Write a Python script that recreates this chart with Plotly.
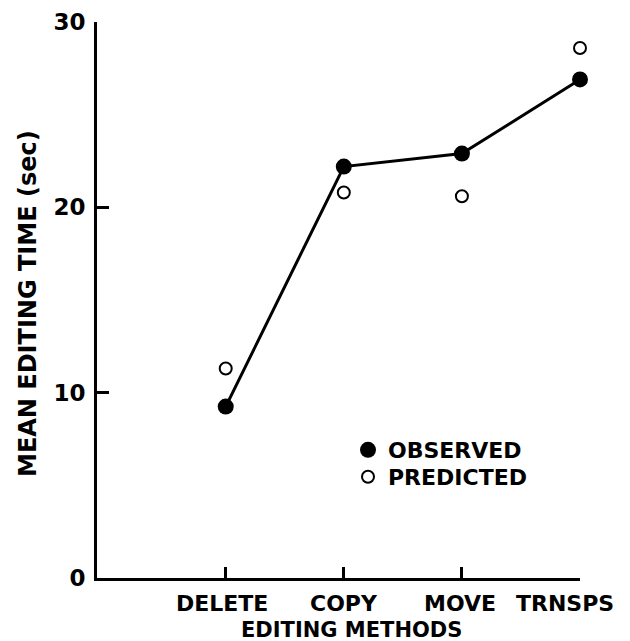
import plotly.graph_objects as go

categories = ["DELETE", "COPY", "MOVE", "TRNSPS"]
observed = [9.25, 22.2, 22.9, 26.9]
predicted = [11.3, 20.8, 20.6, 28.6]
y_ticks = [0, 10, 20, 30]

xpos = list(range(len(categories)))
FONT = "DejaVu Sans"
W, H = 622, 633
L, R, T, B = 89, 50, 14, 63
PW, PH = W - L - R, H - T - B

fig = go.Figure()
fig.add_trace(go.Scatter(
    x=xpos, y=observed, mode="lines", showlegend=False,
    line=dict(color="black", width=3), cliponaxis=False,
))
fig.add_trace(go.Scatter(
    x=xpos, y=observed, mode="markers", name="OBSERVED", legend="legend",
    marker=dict(color="black", size=16, symbol="circle"),
    cliponaxis=False,
))
fig.add_trace(go.Scatter(
    x=xpos, y=predicted, mode="markers", name="PREDICTED", legend="legend2",
    marker=dict(color="white", size=12, symbol="circle",
                line=dict(color="black", width=2)),
    cliponaxis=False,
))

legend_common = dict(xanchor="left", yanchor="top", bgcolor="rgba(0,0,0,0)",
                     itemwidth=30, font=dict(size=22, family=FONT, weight="bold"))

fig.update_layout(
    width=W, height=H,
    margin=dict(l=L, r=R, t=T, b=B, autoexpand=False),
    paper_bgcolor="white", plot_bgcolor="white",
    font=dict(family=FONT, color="black"),
    showlegend=True,
    legend=dict(x=(340 - L) / PW, y=1 - (421 - T) / PH, **legend_common),
    legend2=dict(x=(340 - L) / PW, y=1 - (448 - T) / PH, **legend_common),
    xaxis=dict(range=[-1.09, 3.0], tickvals=xpos, showticklabels=False,
               ticks="inside", ticklen=11, tickwidth=3, tickcolor="black",
               showline=True, linecolor="black", linewidth=3,
               showgrid=False, zeroline=False, automargin=False),
    yaxis=dict(range=[0, 30], tickvals=y_ticks, ticktext=[str(v) for v in y_ticks],
               ticks="inside", ticklen=12, tickwidth=3, tickcolor="black",
               showline=True, linecolor="black", linewidth=3,
               showgrid=False, zeroline=False, automargin=False,
               tickfont=dict(size=23, family=FONT, weight="bold"), ticklabelstandoff=4),
)

shifts = [-4, 0, -2, -15]
for c, xp, s in zip(categories, xpos, shifts):
    fig.add_annotation(x=xp, y=0, xref="x", yref="paper", text=c,
                       showarrow=False, yanchor="middle", yshift=-25, xshift=s,
                       font=dict(size=22, family=FONT, weight="bold"))

fig.add_annotation(text="EDITING METHODS", xref="paper", yref="paper",
                   x=(343 - L) / PW, y=-(622 - (H - B)) / PH,
                   xanchor="center", yanchor="middle", showarrow=False,
                   font=dict(size=21, family=FONT, weight="bold"))

fig.add_annotation(text="MEAN EDITING TIME (sec)", xref="paper", yref="paper",
                   x=-(L - 20) / PW, y=((H - B) - 296) / PH,
                   xanchor="center", yanchor="middle", textangle=-90, showarrow=False,
                   font=dict(size=24, family=FONT, weight="bold"))

fig.write_html("out.html")
